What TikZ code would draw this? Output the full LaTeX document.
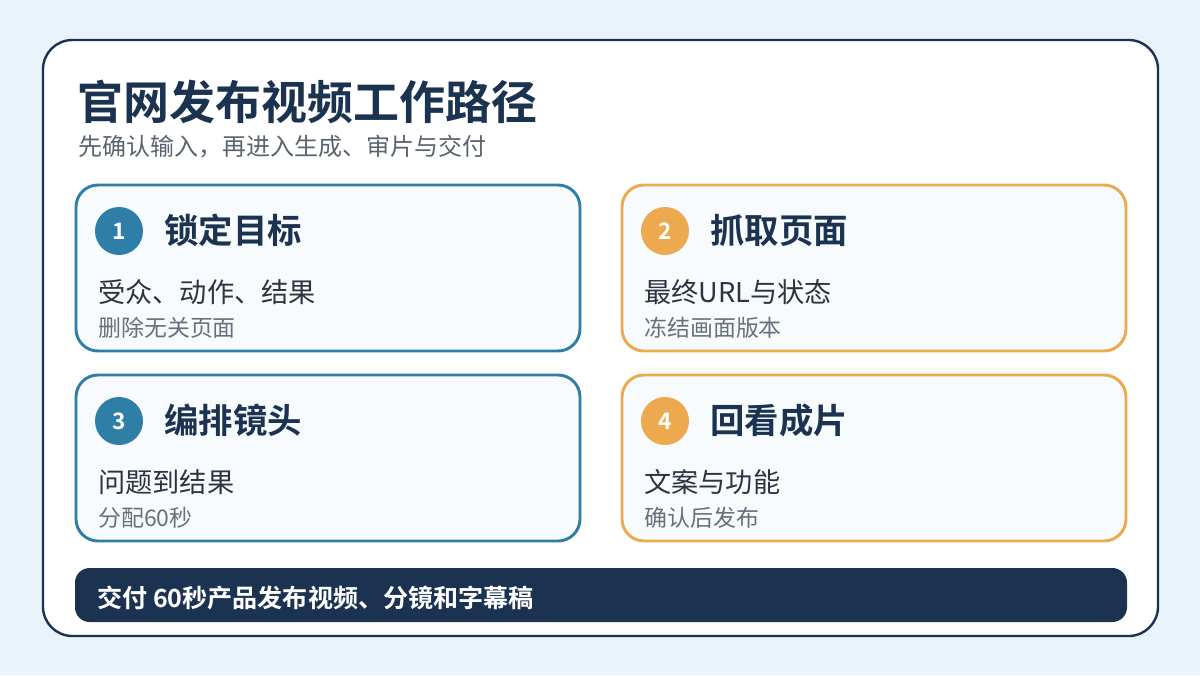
\documentclass[tikz,border=0pt]{standalone}
\usepackage{fontspec}
\setmainfont{Noto Sans CJK SC}
\newfontfamily\cjkb{Noto Sans CJK SC Bold}
\definecolor{bgc}{HTML}{EAF2FB}
\definecolor{navy}{HTML}{1B3350}
\definecolor{blueb}{HTML}{2F7EA8}
\definecolor{orab}{HTML}{EDA94E}
\definecolor{cardf}{HTML}{F8FBFE}
\definecolor{bodyc}{HTML}{2B3440}
\definecolor{grayc}{HTML}{66717D}
\definecolor{subc}{HTML}{5A6470}
\begin{document}
\begin{tikzpicture}[x=0.75pt,y=-0.75pt,
  cardbox/.style={line width=2.2pt,fill=cardf,rounded corners=16.5pt},
  numdot/.style={circle,minimum size=36pt,inner sep=0pt,text=white,font=\cjkb\fontsize{17}{19}\selectfont},
  headtxt/.style={anchor=west,inner sep=0pt,text=navy,font=\cjkb\fontsize{25.8}{28}\selectfont},
  bodytxt/.style={anchor=west,inner sep=0pt,text=bodyc,font=\fontsize{20.4}{22}\selectfont},
  smalltxt/.style={anchor=west,inner sep=0pt,text=grayc,font=\fontsize{17.2}{19}\selectfont}]
\fill[bgc] (0,0) rectangle (1200,675);
\useasboundingbox (0,0) rectangle (1200,675);
\draw[navy,line width=1.8pt,fill=white,rounded corners=22pt] (43,40) rectangle (1158,636);
\node[anchor=west,inner sep=0pt,text=navy,font=\cjkb\fontsize{34.5}{38}\selectfont] (title) at (77,102) {官网发布视频工作路径};
\node[anchor=west,inner sep=0pt,text=subc,font=\fontsize{18}{20}\selectfont] (sub) at (78,147) {先确认输入，再进入生成、审片与交付};
% cards
\draw[cardbox,draw=blueb] (76,185) rectangle (580,351);
\draw[cardbox,draw=orab] (622,185) rectangle (1126,351);
\draw[cardbox,draw=blueb] (76,375) rectangle (580,541);
\draw[cardbox,draw=orab] (622,375) rectangle (1126,541);
% card 1
\node[numdot,fill=blueb] (n1) at (119,231) {1};
\node[headtxt] (h1) at (164,230) {锁定目标};
\node[bodytxt] (b1) at (98,292) {受众、动作、结果};
\node[smalltxt] (s1) at (98,328) {删除无关页面};
% card 2
\node[numdot,fill=orab] (n2) at (665,231) {2};
\node[headtxt] (h2) at (710,230) {抓取页面};
\node[bodytxt] (b2) at (644,292) {最终URL与状态};
\node[smalltxt] (s2) at (644,328) {冻结画面版本};
% card 3
\node[numdot,fill=blueb] (n3) at (119,421) {3};
\node[headtxt] (h3) at (164,420) {编排镜头};
\node[bodytxt] (b3) at (98,482) {问题到结果};
\node[smalltxt] (s3) at (98,518) {分配60秒};
% card 4
\node[numdot,fill=orab] (n4) at (665,421) {4};
\node[headtxt] (h4) at (710,420) {回看成片};
\node[bodytxt] (b4) at (644,482) {文案与功能};
\node[smalltxt] (s4) at (644,518) {确认后发布};
% bottom bar
\fill[navy,rounded corners=11pt] (75,568) rectangle (1127,622);
\node[anchor=west,inner sep=0pt,text=white,font=\cjkb\fontsize{18.8}{21}\selectfont] (bar) at (97,598) {交付 60秒产品发布视频、分镜和字幕稿};
\end{tikzpicture}
\end{document}
